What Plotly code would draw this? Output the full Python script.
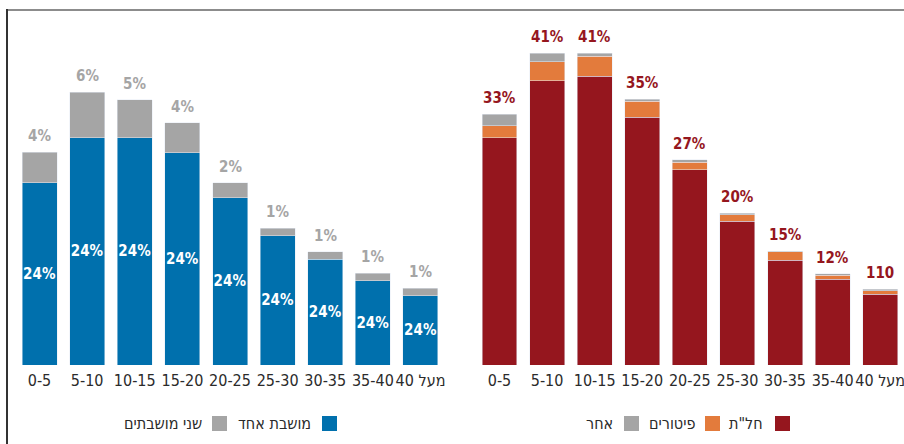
import plotly.graph_objects as go

# ---- data ----
age_groups = ["0-5", "5-10", "10-15", "15-20", "20-25", "25-30", "30-35", "35-40", "מעל 40"]

# left panel: one unemployed parent vs. both parents (percent)
one_parent = [24.0, 29.9, 29.9, 27.9, 22.0, 17.0, 13.9, 11.1, 9.1]
both_parents = [4, 6, 5, 4, 2, 1, 1, 1, 1]
one_parent_text = ["24%", "24%", "24%", "24%", "24%", "24%", "24%", "24%", "24%"]
both_parents_text = ["4%", "6%", "5%", "4%", "2%", "1%", "1%", "1%", "1%"]

# right panel: unpaid leave / dismissals / other (percent)
unpaid_leave = [29.9, 37.4, 38.0, 32.6, 25.7, 18.9, 13.8, 11.3, 9.3]
dismissed = [1.6, 2.5, 2.6, 2.1, 1.0, 0.9, 1.1, 0.5, 0.5]
other = [1.5, 1.1, 0.4, 0.3, 0.3, 0.2, 0.1, 0.2, 0.2]
total_text = ["33%", "41%", "41%", "35%", "27%", "20%", "15%", "12%", "110"]

legend_left = ["מושבת אחד", "שני מושבתים"]
legend_right = ["חל\"ת", "פיטורים", "אחר"]

BLUE = "#0070ad"
GRAY = "#a5a5a5"
RED = "#95161e"
ORANGE = "#e37b3c"
W, H = 904, 444
FONT = "DejaVu Sans Condensed, DejaVu Sans, sans-serif"

fig = go.Figure()

fig.add_trace(go.Bar(x=age_groups, y=one_parent, marker_color=BLUE, xaxis="x", yaxis="y",
                     text=one_parent_text, textposition="inside", insidetextanchor="middle",
                     textangle=0, constraintext="none",
                     textfont=dict(family=FONT, size=15, color="white", weight="bold"),
                     hoverinfo="skip"))
fig.add_trace(go.Bar(x=age_groups, y=both_parents, marker_color=GRAY, xaxis="x", yaxis="y",
                     hoverinfo="skip"))

fig.add_trace(go.Bar(x=age_groups, y=unpaid_leave, marker_color=RED, xaxis="x2", yaxis="y2",
                     hoverinfo="skip"))
fig.add_trace(go.Bar(x=age_groups, y=dismissed, marker_color=ORANGE, xaxis="x2", yaxis="y2",
                     hoverinfo="skip"))
fig.add_trace(go.Bar(x=age_groups, y=other, marker_color=GRAY, xaxis="x2", yaxis="y2",
                     hoverinfo="skip"))

annotations = []
# value labels above the stacks
for cat, a, b, t in zip(age_groups, one_parent, both_parents, both_parents_text):
    annotations.append(dict(x=cat, y=a + b, xref="x", yref="y", text=t, showarrow=False,
                            yanchor="middle", yshift=16,
                            font=dict(family=FONT, size=15, color=GRAY, weight="bold")))
for cat, a, b, c, t in zip(age_groups, unpaid_leave, dismissed, other, total_text):
    annotations.append(dict(x=cat, y=a + b + c, xref="x2", yref="y2", text=t, showarrow=False,
                            yanchor="middle", yshift=16,
                            font=dict(family=FONT, size=15, color=RED, weight="bold")))


def px_x(v):
    return v / W


def px_y(v):
    return (H - v) / H


# right-to-left legends: swatch on the right, label on its left
shapes = []
legend_items = [
    (legend_left[0], BLUE, 322, 313),
    (legend_left[1], GRAY, 212, 204),
    (legend_right[0], RED, 775, 765),
    (legend_right[1], ORANGE, 705, 697),
    (legend_right[2], GRAY, 624, 615),
]
for label, color, sx, tx in legend_items:
    shapes.append(dict(type="rect", xref="paper", yref="paper",
                       x0=px_x(sx), x1=px_x(sx + 15), y0=px_y(431), y1=px_y(416),
                       fillcolor=color, line=dict(width=0)))
    annotations.append(dict(x=px_x(tx), y=px_y(423), xref="paper", yref="paper", text=label,
                            showarrow=False, xanchor="right", yanchor="middle",
                            font=dict(family=FONT, size=16, color="#2a2a2a")))

# frame lines
shapes.append(dict(type="line", xref="paper", yref="paper", x0=px_x(6), x1=1,
                   y0=px_y(10), y1=px_y(10), line=dict(color="#8c8c8c", width=2)))
shapes.append(dict(type="line", xref="paper", yref="paper", x0=px_x(7), x1=px_x(7),
                   y0=px_y(9), y1=0, line=dict(color="#333333", width=2)))

xcommon = dict(type="category", range=[-0.5, 8.5], showgrid=False, zeroline=False,
               showline=False, ticks="", fixedrange=True, tickangle=0, automargin=False,
               ticklabelstandoff=4,
               tickfont=dict(family=FONT, size=16, color="#2b2b2b"))
ycommon = dict(range=[0, 45], showgrid=False, zeroline=False, showline=False,
               showticklabels=False, fixedrange=True, automargin=False,
               domain=[px_y(365), px_y(23)])

fig.update_layout(
    width=W, height=H,
    margin=dict(l=0, r=0, t=0, b=0, autoexpand=False),
    paper_bgcolor="white", plot_bgcolor="white",
    barmode="stack", bargap=0.265,
    showlegend=False,
    xaxis=dict(domain=[px_x(15.7), px_x(444.3)], anchor="y", **xcommon),
    yaxis=dict(anchor="x", **ycommon),
    xaxis2=dict(domain=[px_x(475.7), 1.0], anchor="y2", **xcommon),
    yaxis2=dict(anchor="x2", **ycommon),
    annotations=annotations,
    shapes=shapes,
)

fig.write_html("out.html")
